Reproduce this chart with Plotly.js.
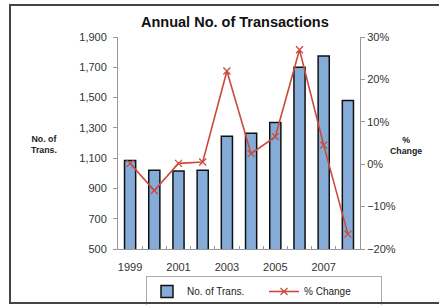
<!DOCTYPE html>
<html><head><meta charset="utf-8">
<script src="https://cdn.plot.ly/plotly-3.0.1.min.js"></script>
<style>
html,body{margin:0;padding:0;background:#fff;}
#chart{width:439px;height:305px;}
#frame{position:absolute;left:9px;top:4px;width:440px;height:296px;border:2px solid #444;pointer-events:none;}
</style></head>
<body>
<div id="chart"></div>
<div id="frame"></div>
<script>
const years = [1999, 2000, 2001, 2002, 2003, 2004, 2005, 2006, 2007, 2008];
const transactions = [1085, 1020, 1015, 1020, 1245, 1265, 1335, 1700, 1775, 1480];
const pctChange = [0.002, -0.062, 0.002, 0.005, 0.22, 0.025, 0.065, 0.27, 0.045, -0.165];
const xTickLabels = ['1999', '2001', '2003', '2005', '2007'];
const xTickVals = [1999, 2001, 2003, 2005, 2007];
const leftTicks = [500, 700, 900, 1100, 1300, 1500, 1700, 1900];

const font = 'Liberation Sans, Arial, sans-serif';
const data = [
  {type:'bar', x:years, y:transactions, name:'No. of Trans.', width:0.46,
   marker:{color:'#85acd9', line:{color:'#111', width:1.5}}},
  {type:'scatter', mode:'lines+markers', x:years, y:pctChange, yaxis:'y2', name:'% Change',
   line:{color:'#cc4a3a', width:1.6},
   marker:{symbol:'x-thin-open', size:7, color:'#cc4a3a', line:{color:'#cc4a3a', width:1.3}}}
];
const layout = {
  width:439, height:305,
  margin:{l:118, r:79, t:37, b:56, autoexpand:false},
  paper_bgcolor:'#fff', plot_bgcolor:'#fff',
  font:{family:font, size:10, color:'#333'},
  showlegend:true,
  legend:{orientation:'h', x:(264-118)/242, xanchor:'center', yref:'container', y:1-276/305, yanchor:'top',
          bordercolor:'#aaa', borderwidth:1, font:{size:10, color:'#222'},
          entrywidth:72, itemwidth:30, tracegroupgap:0},
  title:{text:'<b>Annual No. of Transactions</b>', x:0.535, xanchor:'center', y:0.928, yanchor:'middle',
         font:{size:14.5, color:'#111', family:font}},
  xaxis:{range:[1998.5, 2008.5], tickvals:xTickVals, ticktext:xTickLabels, ticks:'', showgrid:false,
         zeroline:false, showline:true, linecolor:'#999', linewidth:1, tickfont:{size:11, color:'#333'},
         ticklabelstandoff:8,
         minor:{tickvals:[1999.5,2000.5,2001.5,2002.5,2003.5,2004.5,2005.5,2006.5,2007.5], ticks:'inside', ticklen:3, tickcolor:'#999'}},
  yaxis:{range:[500, 1900], tickvals:leftTicks, tickformat:',', ticks:'outside', ticklen:4, tickcolor:'#999',
         showgrid:false, zeroline:false, showline:true, linecolor:'#999', linewidth:1,
         tickfont:{size:11, color:'#333'}, ticklabelstandoff:4},
  yaxis2:{range:[-0.2, 0.3], dtick:0.1, tickformat:'.0%', overlaying:'y', side:'right', ticks:'outside', ticklen:4,
          tickcolor:'#999', showgrid:false, zeroline:false, showline:true, linecolor:'#999', linewidth:1,
          tickfont:{size:11, color:'#333'}},
  annotations:[
    {text:'<b>No. of<br>Trans.</b>', xref:'paper', yref:'paper', x:(44-118)/242, y:(249-144)/212,
     xanchor:'center', yanchor:'middle', showarrow:false, font:{size:8.8, color:'#222'}},
    {text:'<b>%<br>Change</b>', xref:'paper', yref:'paper', x:(406-118)/242, y:(249-145)/212,
     xanchor:'center', yanchor:'middle', showarrow:false, font:{size:8.8, color:'#222'}}
  ]
};
Plotly.newPlot('chart', data, layout, {displayModeBar:false, staticPlot:true});
</script>
</body></html>
